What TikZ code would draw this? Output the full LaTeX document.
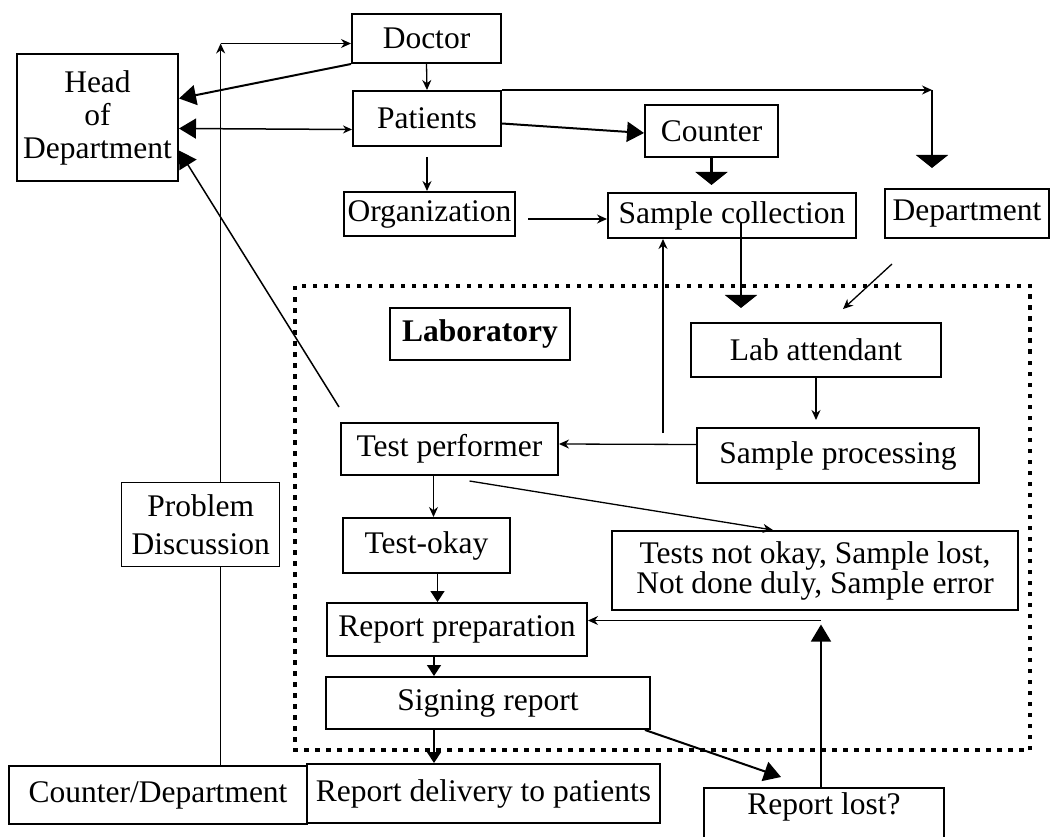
\documentclass[tikz,border=0pt]{standalone}
\usepackage{fontspec}
\setmainfont{Liberation Serif}
\usepackage{tikz}
\usetikzlibrary{
  arrows.meta,
  positioning,
  calc
}
\newcommand{\lbfont}{\fontsize{31.5}{34}\selectfont}
\tikzset{
  lbnode/.style={
    draw, line width=2pt, inner sep=0pt, anchor=north west,
    align=center, font=\lbfont
  },
  flow/.style={-{Stealth[length=10pt, width=9pt]}, line width=1.3pt},
  midflow/.style={-{Triangle[length=11pt, width=14pt]}, line width=1.5pt},
  bigflow/.style={-{Triangle[length=17pt, width=20pt]}, line width=2pt},
  wideflow/.style={-{Triangle[length=13pt, width=32pt]}, line width=2.2pt},
  plainline/.style={line width=1.3pt},
  zone/.style={line width=4.5pt, dash pattern=on 4.5pt off 6.5pt}
}

\begin{document}
\begin{tikzpicture}[x=1pt, y=-1pt]
  \useasboundingbox (0,0) rectangle (1050,837);

  % laboratory frame
  \draw[zone] (295,286) rectangle (1030,750);

  % outside the lab
  \node[lbnode, minimum width=149pt, minimum height=49pt] (doc) at (351,13) {Doctor};
  \node[lbnode, minimum width=161pt, minimum height=127pt, font=\fontsize{31.5}{33}\selectfont] (head) at (16,53) {Head\\of\\Department};
  \node[lbnode, minimum width=148pt, minimum height=55pt] (pat) at (352,90) {Patients};
  \node[lbnode, minimum width=171pt, minimum height=44pt] (org) at (343,191) {Organization};
  \node[lbnode, minimum width=133pt, minimum height=52pt] (cnt) at (644,104) {Counter};
  \node[lbnode, minimum width=248pt, minimum height=45pt] (sc) at (607,192) {Sample collection};
  \node[lbnode, minimum width=164pt, minimum height=49pt] (dep) at (884,188) {Department};
  \node[lbnode, minimum width=158pt, minimum height=84pt, line width=1.3pt, font=\fontsize{31.5}{38}\selectfont] (pd) at (121,482) {Problem\\Discussion};

  % inside the lab
  \node[lbnode, minimum width=180pt, minimum height=52pt, font=\lbfont\bfseries] (lab) at (389,307) {Laboratory};
  \node[lbnode, minimum width=250pt, minimum height=54pt] (la) at (690,322) {Lab attendant};
  \node[lbnode, minimum width=217pt, minimum height=52pt] (tp) at (340,422) {Test performer};
  \node[lbnode, minimum width=282pt, minimum height=55pt] (sp) at (696,427) {Sample processing};
  \node[lbnode, minimum width=167pt, minimum height=55pt] (tok) at (342,517) {Test-okay};
  \node[lbnode, minimum width=406pt, minimum height=79pt, font=\fontsize{31.5}{30}\selectfont] (tno) at (611,530) {Tests not okay, Sample lost,\\Not done duly, Sample error};
  \node[lbnode, minimum width=260pt, minimum height=53pt] (rp) at (326,602) {Report preparation};
  \node[lbnode, minimum width=324pt, minimum height=52pt] (sr) at (325,676) {Signing report};

  % bottom row
  \node[lbnode, minimum width=298pt, minimum height=58pt] (cd) at (8,765) {Counter/Department};
  \node[lbnode, minimum width=353pt, minimum height=59pt] (rd) at (306,763) {Report delivery to patients};
  \node[lbnode, minimum width=240pt, inner sep=5pt, text depth=40pt] (rl) at (703,787) {Report lost?};

  % helper points
  \coordinate (pdx) at ([xshift=20pt]pd.center);
  \coordinate (dl) at ([yshift=-5pt]doc.west);
  \coordinate (dx) at ([xshift=-35pt]dep.north);
  \coordinate (pk) at (dx |- pat.north);
  \coordinate (sa) at ([shift={(9pt,-8pt)}]sc.center);
  \coordinate (su) at ([shift={(-33pt,-6pt)}]sp.north west);
  \coordinate (t1) at ([xshift=-16pt]tp.south);
  \coordinate (t2) at ([xshift=11pt]tok.south);
  \coordinate (t3) at ([xshift=-23pt]rp.south);
  \coordinate (t4) at ([xshift=-54pt]sr.south);
  \coordinate (r1) at ([xshift=-3pt]rl.north);
  \coordinate (r2) at ($(r1 |- rp.east)+(0,9pt)$);

  % top part
  \draw[bigflow] (doc.south west) -- ([yshift=19pt]head.east);
  \draw[flow] (doc.south) -- (pat.north);
  \draw[{Stealth[length=9pt, width=8pt]}-{Triangle[length=17pt, width=20pt]}, line width=1.5pt]
    ([yshift=-11pt]pat.west) -- ([yshift=-11pt]head.east);
  \draw[flow] ([yshift=-10pt]pat.south) -- (pat.south |- org.north);
  \draw[flow] (pat.north east) -- (pk);
  \draw[wideflow] (pk) -- ([yshift=20pt]dx);
  \draw[bigflow] ([yshift=-5pt]pat.east) -- ([yshift=-2pt]cnt.west);
  \draw[wideflow] (cnt.south) -- ($(cnt.south |- sc.north)+(0,7pt)$);
  \draw[flow] ([shift={(12pt,-5pt)}]org.east) -- ([yshift=-3.5pt]sc.west);

  % into the lab
  \draw[wideflow] (sa) -- ($(sa |- la.north)+(0,14pt)$);
  \draw[flow] ([shift={(-75pt,-25pt)}]dep.south) -- ([shift={(27pt,13pt)}]la.north);
  \draw[flow] (la.south) -- ($(la.south |- sp.north)+(0,7pt)$);
  \draw[flow] ([yshift=11pt]sp.west) -- ([yshift=5pt]tp.east);
  \draw[flow] (su) -- (su |- sc.south);
  \draw[bigflow, line width=1.5pt] ([shift={(-1pt,15pt)}]tp.north west) -- ([yshift=-33pt]head.east);

  % tests and reports
  \draw[flow] (t1) -- (t1 |- tok.north);
  \draw[flow] ([shift={(20pt,-5pt)}]tp.south) -- ([xshift=-42pt]tno.north);
  \draw[midflow] (t2) -- (t2 |- rp.north);
  \draw[midflow] (t3) -- (t3 |- sr.north);
  \draw[midflow] (t4) -- (t4 |- rd.north);
  \draw[bigflow] ([xshift=-6pt]sr.south east) -- ([shift={(-43pt,10pt)}]rl.north);
  \draw[bigflow, line width=1.5pt] (r1) -- ([yshift=-4pt]r2);
  \draw[flow] (r2) -- ([yshift=9pt]rp.east);

  % problem discussion loop
  \draw[plainline] (pdx |- cd.north) -- (pdx |- pd.south);
  \draw[flow] (pdx |- pd.north) -- (pdx |- dl);
  \draw[flow] (pdx |- dl) -- (dl);
\end{tikzpicture}
\end{document}
